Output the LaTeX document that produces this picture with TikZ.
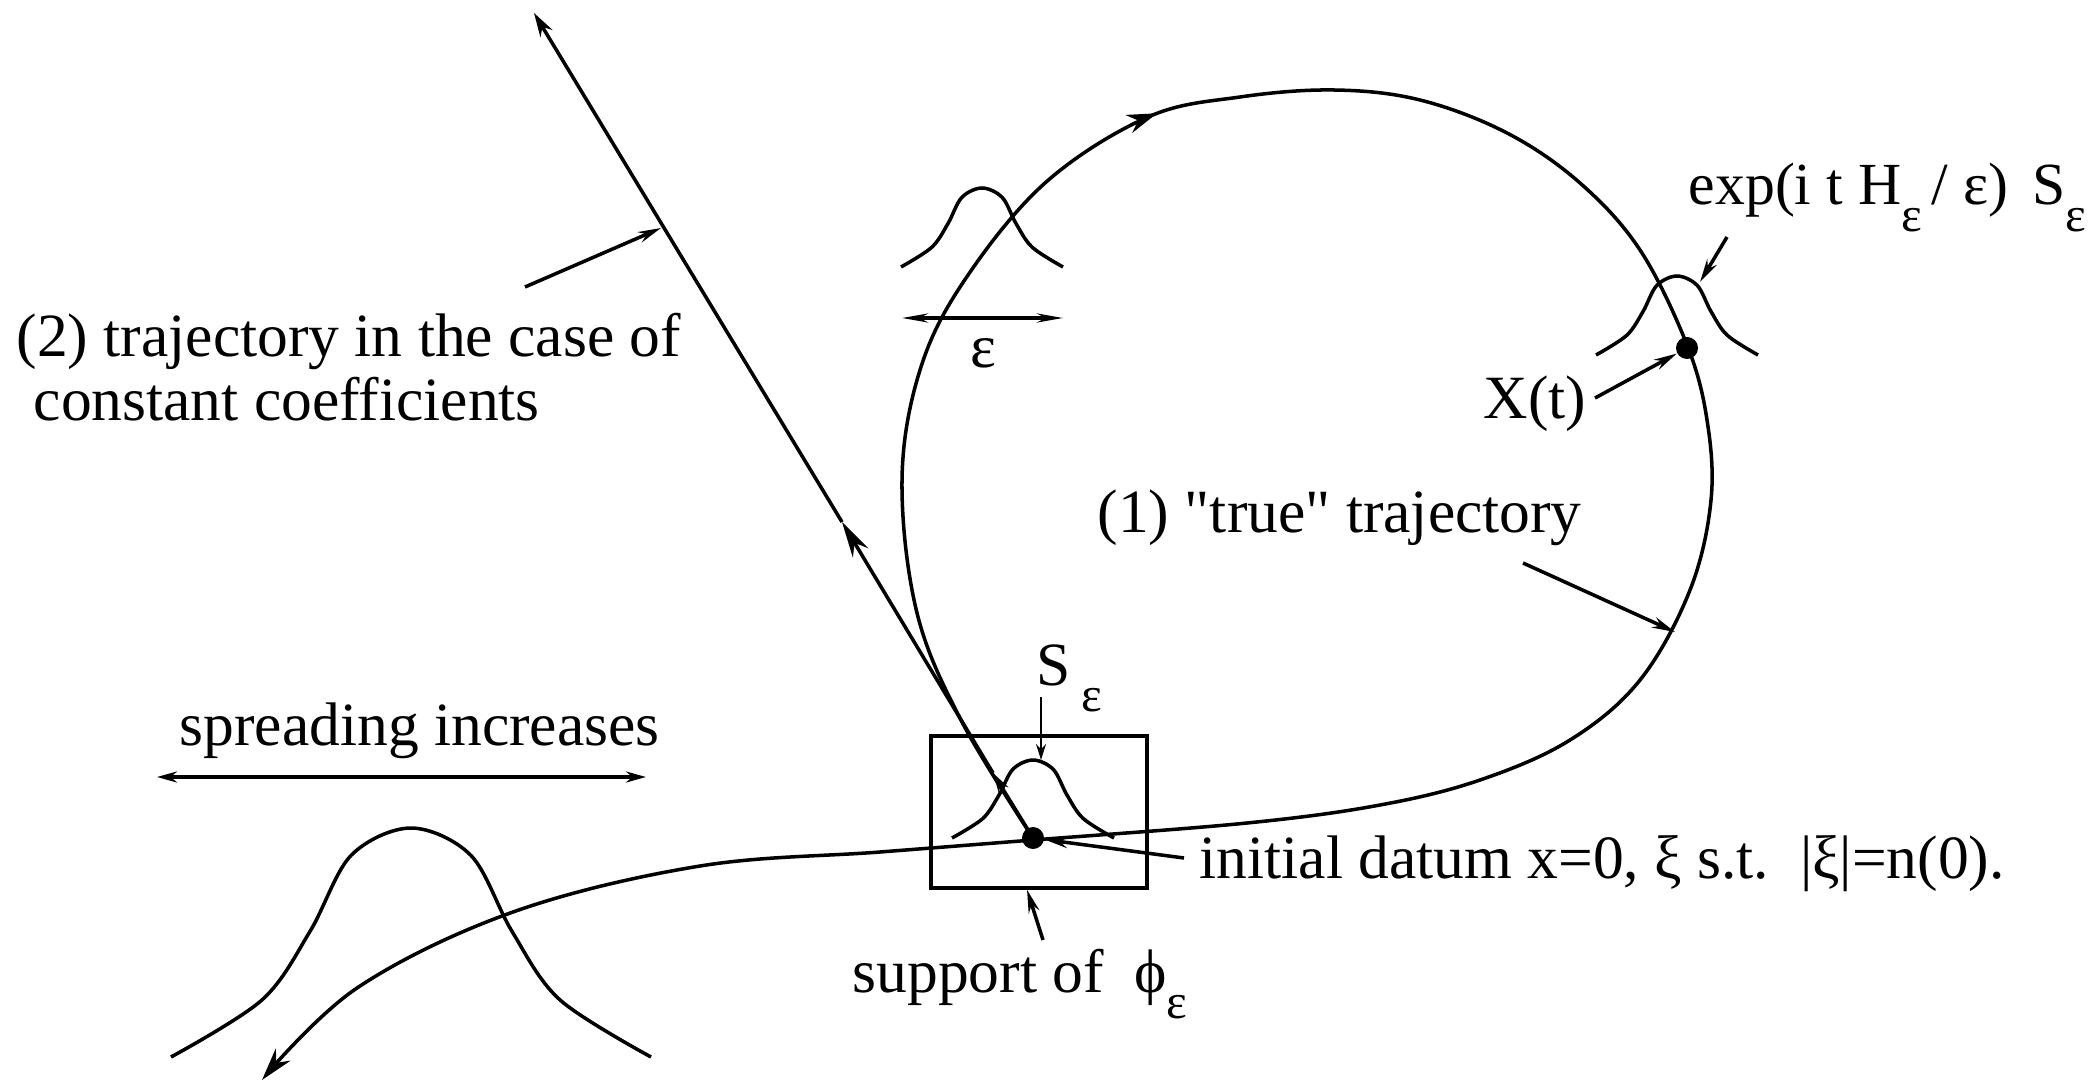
\documentclass[tikz,border=0pt]{standalone}
\usepackage{fontspec}
\setmainfont{Liberation Serif}[Ligatures=TeXOff]
\usetikzlibrary{arrows.meta, positioning, decorations.markings}

\newcommand{\epssub}{\raisebox{-7.5pt}{\fontsize{14}{14}\selectfont ε}}
% wave packet: centre x, foot y, half width, height
\newcommand{\bumpat}[4]{%
  \draw[curve] plot[smooth, tension=0.55] coordinates {
    ({#1-#3},#2) ({#1-0.62*#3},{#2-0.25*#4}) ({#1-0.42*#3},{#2-0.55*#4})
    ({#1-0.25*#3},{#2-0.88*#4}) (#1,{#2-#4}) ({#1+0.25*#3},{#2-0.88*#4})
    ({#1+0.42*#3},{#2-0.55*#4}) ({#1+0.62*#3},{#2-0.25*#4}) ({#1+#3},#2)};}

\begin{document}
\begin{tikzpicture}[
    x=0.1mm, y=-0.1mm,
    curve/.style={line width=1pt, line join=round},
    pointer/.style={line width=1pt, -{Stealth[length=2.3mm, width=1.1mm]}},
    fine/.style={line width=0.5pt, -{Stealth[length=1.6mm, width=1mm]}},
    lbl/.style={font=\fontsize{17.5}{18}\selectfont, inner sep=0pt},
    dot/.style={circle, fill=black, inner sep=0pt, minimum size=2.2mm},
]
\useasboundingbox (0,0) rectangle (2092,1082);

%% support box and initial point
\node[draw, line width=1pt, minimum width=21.6mm, minimum height=15.2mm,
      inner sep=0pt] (supp) at (1039,812) {};
\node[dot] (x0) at (1033,838) {};

%% wave packets
\bumpat{411}{1057}{240}{229}
\bumpat{982}{267}{81}{79}
\bumpat{1677}{355}{81}{79}
\bumpat{1033}{838}{81}{78}
\coordinate (peak) at (1041,760);
\coordinate (xpeak) at (1700,282);

%% (2) straight trajectory
\coordinate (s1) at (993,773);
\coordinate (s2) at (842,522);
\coordinate (s3) at (534,13);
\draw[curve, -{Stealth[length=2mm, width=1.1mm]}] (x0.center) -- (s1);
\draw[curve, -{Stealth[length=3.6mm, width=1.8mm]}] (s1) -- (s2);
\draw[curve, -{Stealth[length=2.4mm, width=1.4mm]}] (s2) -- (s3);

%% (1) true trajectory
\draw[curve, -{Stealth[length=3.3mm, width=1.9mm]},
      decoration={markings, mark=at position 8.6cm with
        {\arrow{Stealth[length=3mm, width=1.9mm]}}},
      postaction={decorate}]
  plot[smooth, tension=0.6] coordinates {
    (1033,838) (962,722) (917,613) (902,480) (920,370) (964,281)
    (1045,183) (1148,117) (1240,97) (1334,90) (1420,100) (1507,133)
    (1580,183) (1640,250) (1687,345) (1707,420) (1711,500) (1690,590)
    (1640,680) (1570,740) (1480,780) (1380,805) (1247,823) (1033,840)
    (880,852) (700,866) (513,912) (357,988) (262,1080)};
\node[dot] (xt) at (1687,348) {};

%% spreading
\node[lbl, anchor=base west] (spread) at (179,745) {spreading increases};
\coordinate (spl) at (157,777);
\coordinate (spr) at (646,777);
\draw[curve, {Stealth[length=2mm, width=1.1mm]}-{Stealth[length=2mm, width=1.1mm]}] (spl) -- (spr);

%% width eps
\coordinate (epl) at (902,318);
\coordinate (epr) at (1063,318);
\draw[curve, {Stealth[length=2.6mm, width=0.9mm]}-{Stealth[length=2.6mm, width=0.9mm]}] (epl) -- (epr);
\node[lbl, anchor=base] (eps) at (983,368) {ε};

%% labels
\node[lbl, anchor=base west] (c2a) at (16,357) {(2) trajectory in the case of};
\node[lbl, anchor=base west] (c2b) at (33,420) {constant coefficients};
\coordinate (c2p) at (525,287);
\draw[pointer] (c2p) -- (661,228);

\node[lbl, anchor=base west] (c1) at (1097,532) {(1) "true" trajectory};
\coordinate (c1p) at (1523,563);
\draw[pointer] (c1p) -- (1675,632);

\node[lbl, anchor=base west] (xl) at (1483,418) {X(t)};
\coordinate (xlp) at (1595,398);
\draw[pointer] (xlp) -- (xt);

\node[lbl, font=\fontsize{17}{18}\selectfont, anchor=base west] (expl) at (1688,205)
    {exp(i t H\epssub\,/ ε)\hspace{0.4em}S\epssub};
\coordinate (expp) at (1727,237);
\draw[pointer] (expp) -- (xpeak);

\node[lbl, anchor=base west] (sl) at (1036,685) {S\,\epssub};
\coordinate (slp) at (1041,697);
\draw[fine] (slp) -- (peak);

\node[lbl, anchor=base west] (idl) at (1199,878)
    {initial datum x=0, ξ s.t.\ \ |ξ|=n(0).};
\coordinate (idp) at (1184,858);
\draw[pointer] (idp) -- (x0);

\node[lbl, anchor=base west] (supl) at (852,992) {support of\ \ ϕ\epssub};
\coordinate (supp0) at (1043,940);
\draw[pointer] (supp0) -- ([xshift=-1.2mm]supp.south);

\end{tikzpicture}
\end{document}
